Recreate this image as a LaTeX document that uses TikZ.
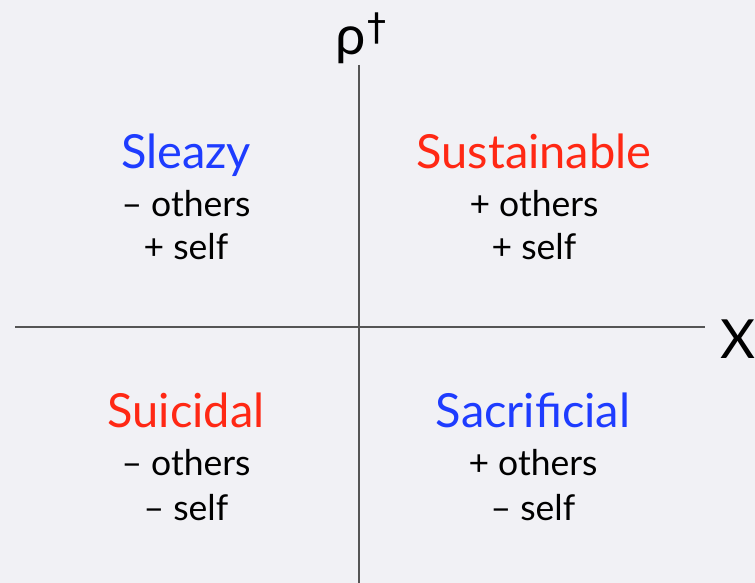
\documentclass[tikz,border=0pt]{standalone}
\usepackage{fontspec}
\setmainfont{Lato}
\newfontfamily\daggerfont{DejaVu Sans}
\definecolor{bg}{RGB}{241,241,245}
\definecolor{axisgray}{RGB}{85,85,85}
\definecolor{qblue}{RGB}{30,60,255}
\definecolor{qred}{RGB}{255,40,20}
\begin{document}
\begin{tikzpicture}[x=1pt,y=-1pt,
  title/.style={font=\fontsize{47}{52}\selectfont, inner sep=0pt, anchor=base},
  sub/.style={font=\fontsize{35.5}{40}\selectfont, inner sep=0pt, anchor=base, text=black},
  axislabel/.style={font=\fontsize{54}{60}\selectfont, inner sep=0pt, anchor=base, text=black},
  axisline/.style={draw=axisgray, line width=1.8pt}]
\fill[bg] (0,0) rectangle (755,583);
\useasboundingbox (0,0) rectangle (755,583);
% axes
\coordinate (vtop) at (359,65);
\coordinate (vbot) at (359,583);
\coordinate (hl) at (15,327);
\coordinate (hr) at (705,327);
\draw[axisline] (vtop) -- (vbot);
\draw[axisline] (hl) -- (hr);
\node[axislabel] (rho) at (361,55) {ρ\kern2pt\raisebox{14pt}{\daggerfont\fontsize{38}{38}\selectfont †}};
\node[axislabel] (xl) at (738,358) {X};
% quadrants
\node[title, text=qblue] (sleazy) at (186,168) {Sleazy};
\node[sub] (s1) at (186,216) {– others};
\node[sub] (s2) at (186,259) {+ self};
\node[title, text=qred] (sust) at (534,168) {Sustainable};
\node[sub] (t1) at (534,216) {+ others};
\node[sub] (t2) at (534,259) {+ self};
\node[title, text=qred] (suic) at (186,427) {Suicidal};
\node[sub] (u1) at (186,475) {– others};
\node[sub] (u2) at (186,520) {– self};
\node[title, text=qblue] (sacr) at (533,427) {Sacrificial};
\node[sub] (c1) at (533,475) {+ others};
\node[sub] (c2) at (533,520) {– self};
\end{tikzpicture}
\end{document}
